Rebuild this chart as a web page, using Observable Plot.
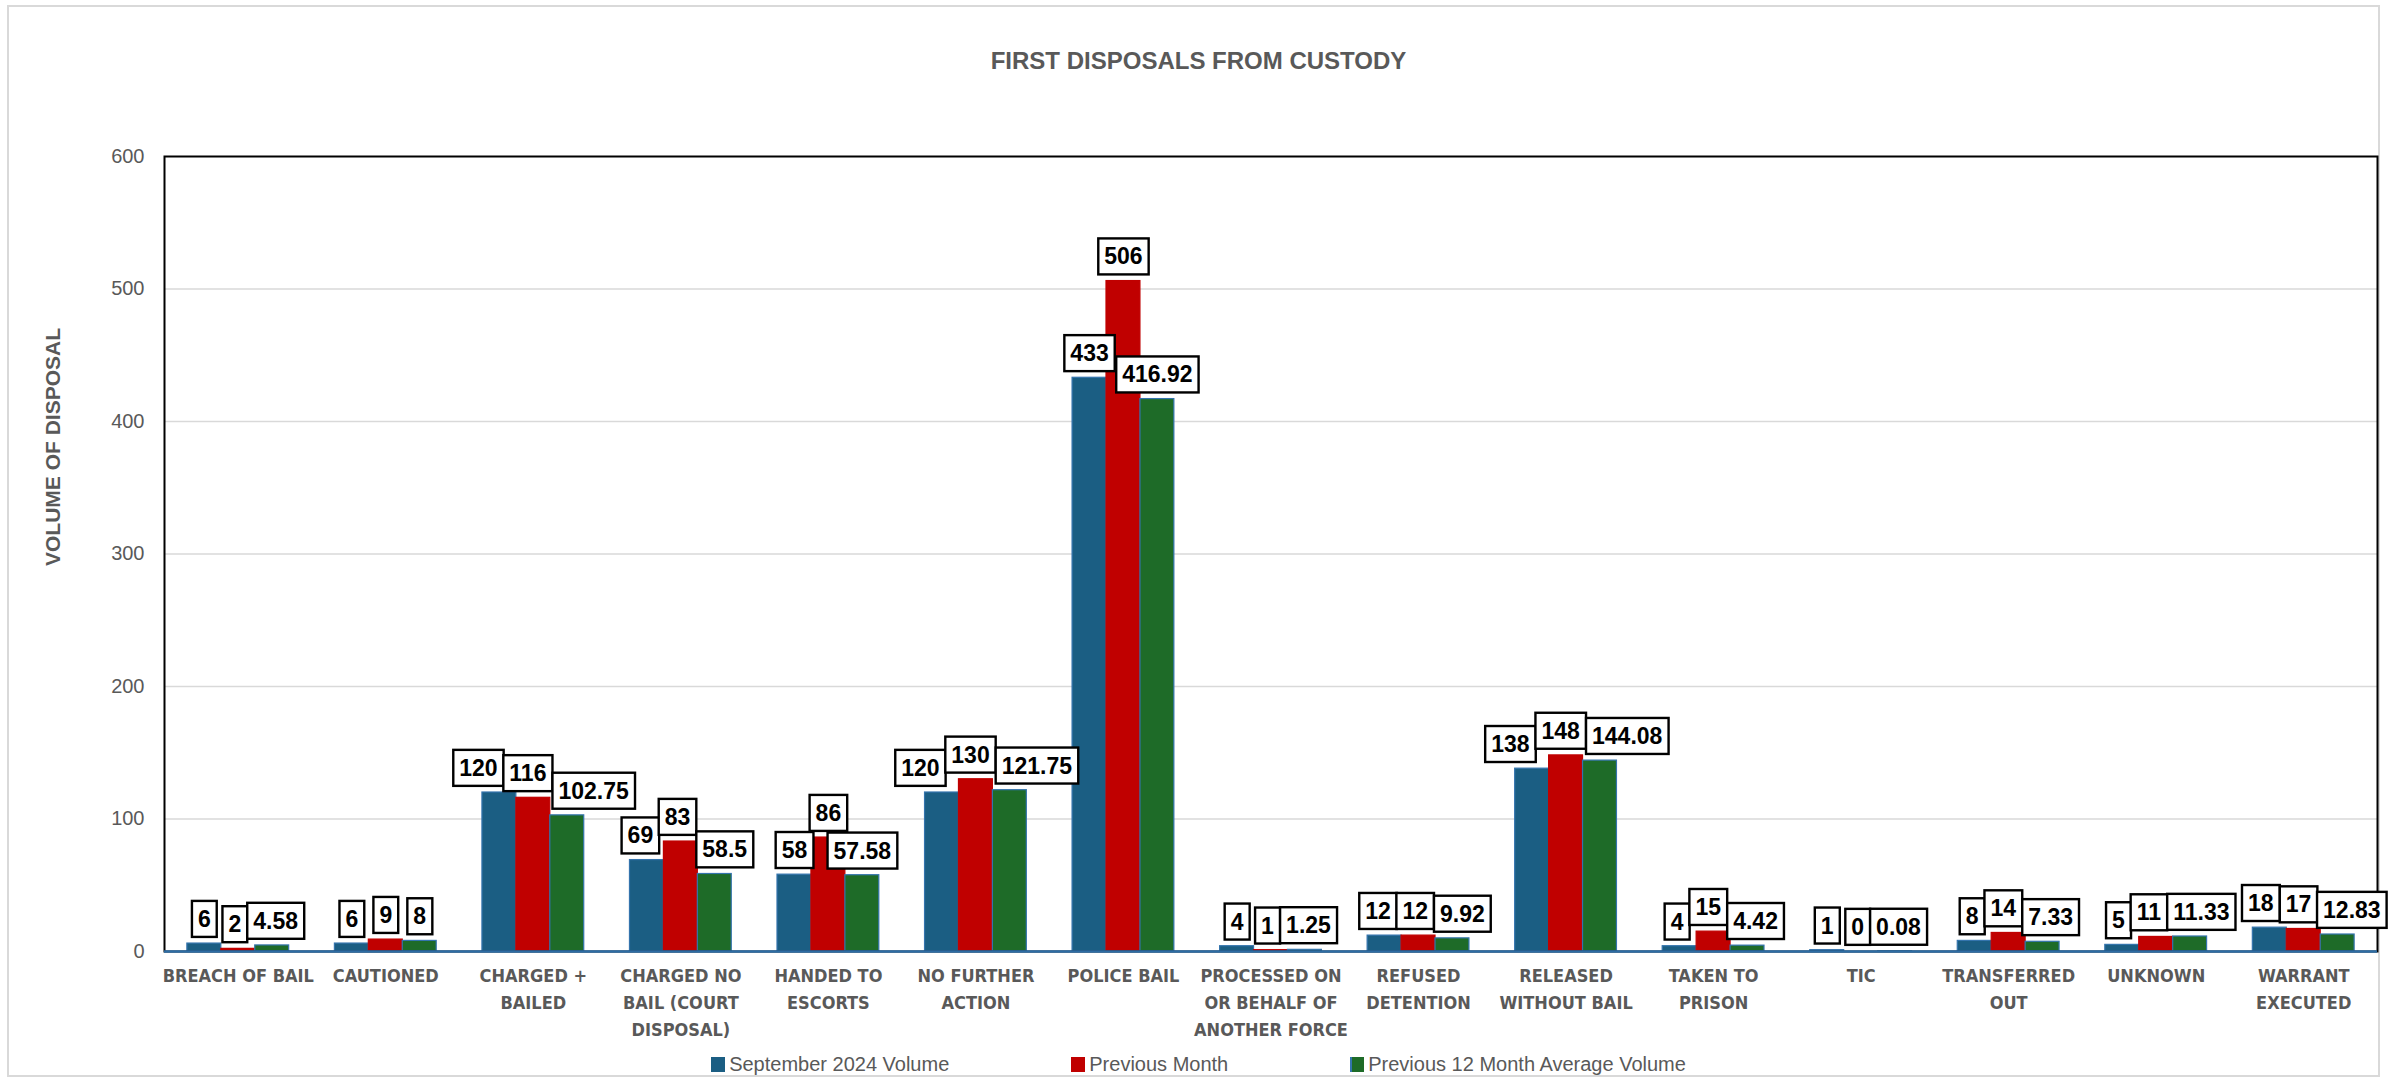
<!DOCTYPE html>
<html>
<head>
<meta charset="utf-8">
<script src="https://cdn.jsdelivr.net/npm/d3@7"></script>
<script src="https://cdn.jsdelivr.net/npm/@observablehq/plot@0.6"></script>
<style>
  html, body { margin: 0; padding: 0; background: #fff; }
  body { width: 2397px; height: 1083px; position: relative; overflow: hidden;
         font-family: "Liberation Sans", Arial, sans-serif; }
  #panel { position: absolute; left: 7px; top: 5px; width: 2373px; height: 1072px;
           border: 2px solid #d9d9d9; box-sizing: border-box; }
  #title { position: absolute; left: 0; width: 2397px; top: 47px; text-align: center;
           font: bold 24px "Liberation Sans", Arial, sans-serif; color: #595959; }
  #ytitle { position: absolute; left: 53px; top: 447px; transform: translate(-50%, -50%) rotate(-90deg);
            font: bold 21px "Liberation Sans", Arial, sans-serif; color: #595959; white-space: nowrap; }
  #chart { position: absolute; left: 0; top: 0; }
  #legend { position: absolute; left: 0; top: 1053px; width: 2397px; display: flex; justify-content: center;
            gap: 122px; font: 20px "Liberation Sans", Arial, sans-serif; color: #595959; }
  .item { display: flex; align-items: center; gap: 4px; }
  .sw { width: 14px; height: 15px; box-sizing: border-box; }
  #chart svg [aria-label="x-axis tick label"] text { font-weight: bold; }
</style>
</head>
<body>
<div id="panel"></div>
<div id="title">FIRST DISPOSALS FROM CUSTODY</div>
<div id="ytitle">VOLUME OF DISPOSAL</div>
<div id="chart"></div>
<div id="legend"></div>
<script>
// Disposal categories and their axis labels
const categories = [
  "BREACH OF BAIL", "CAUTIONED", "CHARGED + BAILED", "CHARGED NO BAIL (COURT DISPOSAL)",
  "HANDED TO ESCORTS", "NO FURTHER ACTION", "POLICE BAIL", "PROCESSED ON OR BEHALF OF ANOTHER FORCE",
  "REFUSED DETENTION", "RELEASED WITHOUT BAIL", "TAKEN TO PRISON", "TIC", "TRANSFERRED OUT",
  "UNKNOWN", "WARRANT EXECUTED"
];
const tickLabels = [
  "BREACH OF BAIL", "CAUTIONED", "CHARGED +\nBAILED", "CHARGED NO\nBAIL (COURT\nDISPOSAL)",
  "HANDED TO\nESCORTS", "NO FURTHER\nACTION", "POLICE BAIL", "PROCESSED ON\nOR BEHALF OF\nANOTHER FORCE",
  "REFUSED\nDETENTION", "RELEASED\nWITHOUT BAIL", "TAKEN TO\nPRISON", "TIC", "TRANSFERRED\nOUT",
  "UNKNOWN", "WARRANT\nEXECUTED"
];

// Series
const seriesNames = ["September 2024 Volume", "Previous Month", "Previous 12 Month Average Volume"];
const septVolume = [6, 6, 120, 69, 58, 120, 433, 4, 12, 138, 4, 1, 8, 5, 18];
const previousMonth = [2, 9, 116, 83, 86, 130, 506, 1, 12, 148, 15, 0, 14, 11, 17];
const twelveMonthAvg = [4.58, 8, 102.75, 58.5, 57.58, 121.75, 416.92, 1.25, 9.92, 144.08, 4.42, 0.08, 7.33, 11.33, 12.83];
const yTicks = [0, 100, 200, 300, 400, 500, 600];

const seriesValues = [septVolume, previousMonth, twelveMonthAvg];
const fills = ["#1b5e83", "#c00000", "#1e6b28"];
const strokes = ["#3474ad", "#c00000", "#3474ad"];

const rows = categories.flatMap((category, i) =>
  seriesNames.map((series, j) => ({category, series, j, value: seriesValues[j][i]})));

// Layout
const width = 2397, height = 1040;
const marginLeft = 164, marginRight = 20, marginTop = 156, marginBottom = 89;
const paddingInner = 0.77;
const step = (width - marginLeft - marginRight) / categories.length;
const barW = step * (1 - paddingInner);
const labelSize = 23;

const marks = [
  Plot.ruleY(yTicks.slice(1, -1), {stroke: "#d9d9d9", strokeWidth: 1.5}),
  ...seriesNames.map((s, j) => Plot.barY(rows.filter(r => r.j === j), {
    x: "category", y: "value", dx: (j - 1) * barW,
    fill: fills[j], stroke: strokes[j], strokeWidth: 1.2
  })),
  Plot.frame({stroke: "#000", strokeWidth: 2}),
  Plot.ruleY([0], {stroke: "#2e6da4", strokeWidth: 2.5}),
  Plot.axisY({ticks: yTicks, tickSize: 0, tickPadding: 20, fontSize: 20, fill: "#595959", label: null}),
  Plot.axisX({
    tickSize: 0, tickPadding: 11, fontSize: 18, lineHeight: 1.5, fill: "#595959", label: null,
    fontFamily: "'Liberation Sans Narrow', 'DejaVu Sans Condensed', sans-serif",
    tickFormat: d => tickLabels[categories.indexOf(d)]
  }),
  ...seriesNames.map((s, j) => Plot.text(rows.filter(r => r.j === j), {
    x: "category", y: "value", dx: (j - 1) * barW, dy: -24,
    text: d => String(d.value), lineAnchor: "middle",
    fontSize: labelSize, fontWeight: "bold", fill: "#000"
  }))
];

const chart = Plot.plot({
  width, height, marginLeft, marginRight, marginTop, marginBottom,
  style: {fontFamily: "'Liberation Sans', Arial, sans-serif", background: "transparent", overflow: "visible"},
  x: {domain: categories, paddingInner, paddingOuter: paddingInner / 2, round: false, axis: null},
  y: {domain: [0, 600], axis: null},
  marks
});
document.getElementById("chart").appendChild(chart);

// Boxed value labels, pushed apart where they collide inside a group
const svgNS = "http://www.w3.org/2000/svg";
const labelGroups = Array.from(chart.querySelectorAll("g"))
  .filter(g => g.getAttribute("font-size") == String(labelSize) && g.querySelector("text"));
const items = [];
labelGroups.forEach((g, j) => {
  Array.from(g.querySelectorAll("text")).forEach((t, i) => {
    const b = t.getBBox();
    const wrap = document.createElementNS(svgNS, "g");
    const rect = document.createElementNS(svgNS, "rect");
    const padX = 6, padY = 5;
    rect.setAttribute("x", b.x - padX);
    rect.setAttribute("y", b.y - padY);
    rect.setAttribute("width", b.width + 2 * padX);
    rect.setAttribute("height", b.height + 2 * padY);
    rect.setAttribute("fill", "#fff");
    rect.setAttribute("stroke", "#000");
    rect.setAttribute("stroke-width", 2.4);
    const tf = t.getAttribute("transform");
    if (tf) rect.setAttribute("transform", tf);
    t.parentNode.insertBefore(wrap, t);
    wrap.appendChild(rect);
    wrap.appendChild(t);
    const r = rect.getBoundingClientRect();
    items.push({wrap, j, i, left: r.left, right: r.right, top: r.top, bottom: r.bottom, shift: 0});
  });
});
for (let i = 0; i < categories.length; i++) {
  const group = items.filter(d => d.i === i).sort((a, b) => a.j - b.j);
  for (let iter = 0; iter < 300; iter++) {
    let moved = false;
    for (let a = 0; a < group.length; a++) {
      for (let b = a + 1; b < group.length; b++) {
        const A = group[a], B = group[b];
        const vOverlap = Math.min(A.bottom, B.bottom) - Math.max(A.top, B.top);
        const hOverlap = (A.right + A.shift) - (B.left + B.shift);
        if (vOverlap > 0 && hOverlap > 0.5) {
          A.shift -= hOverlap / 2; B.shift += hOverlap / 2; moved = true;
        }
      }
    }
    if (!moved) break;
  }
  group.forEach(d => d.wrap.setAttribute("transform", `translate(${d.shift},0)`));
}

// Legend
const legend = document.getElementById("legend");
seriesNames.forEach((name, j) => {
  const item = document.createElement("div");
  item.className = "item";
  const sw = document.createElement("div");
  sw.className = "sw";
  sw.style.background = fills[j];
  if (j === 2) sw.style.borderLeft = "2px solid " + strokes[2];
  const label = document.createElement("span");
  label.textContent = name;
  item.append(sw, label);
  legend.appendChild(item);
});
</script>
</body>
</html>
